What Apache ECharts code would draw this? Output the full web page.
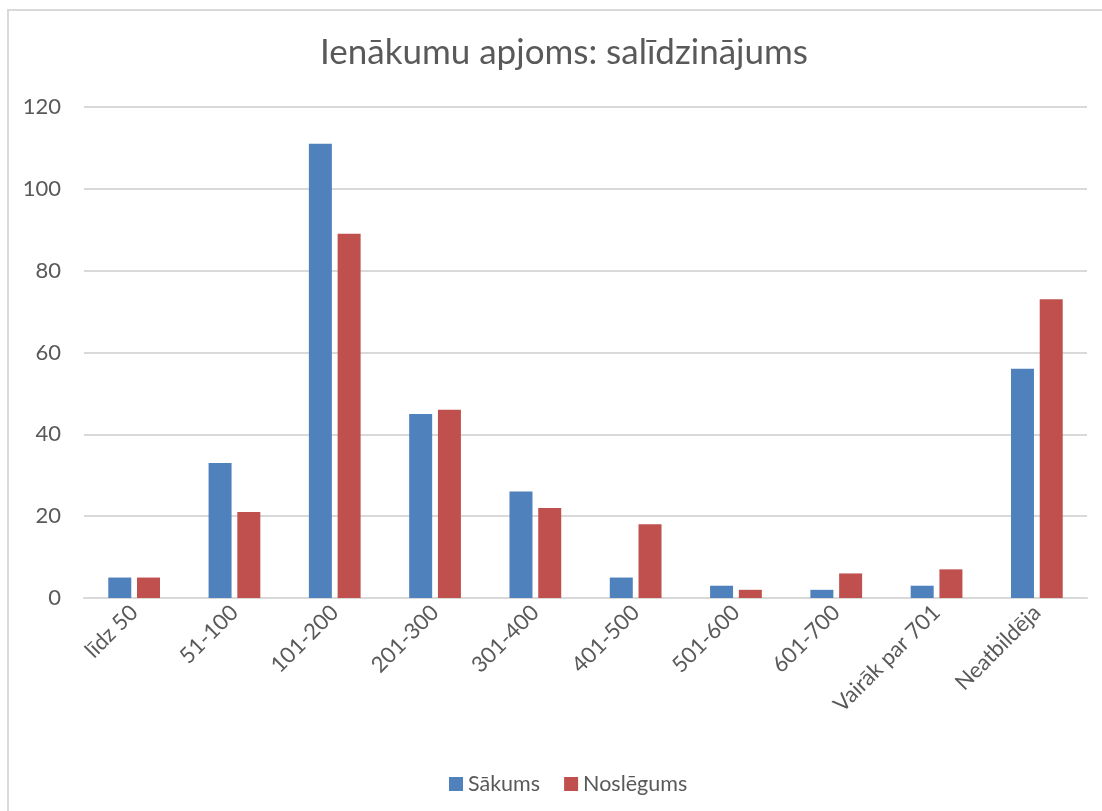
<!DOCTYPE html>
<html>
<head>
<meta charset="utf-8">
<script src="https://cdn.jsdelivr.net/npm/echarts@6/dist/echarts.min.js"></script>
<style>
  html, body { margin: 0; padding: 0; background: #fff; }
  #frame {
    position: absolute; left: 7px; top: 9px; width: 1095px; height: 802px;
    border-left: 2px solid #d9d9d9; border-top: 2px solid #d9d9d9;
    box-sizing: border-box;
  }
  #chart { position: absolute; left: 0; top: 0; width: 1102px; height: 811px; }
</style>
</head>
<body>
<div id="frame"></div>
<div id="chart"></div>
<script>
const categories = ['līdz 50', '51-100', '101-200', '201-300', '301-400', '401-500', '501-600', '601-700', 'Vairāk par 701', 'Neatbildēja'];
const sakums = [5, 33, 111, 45, 26, 5, 3, 2, 3, 56];
const noslegums = [5, 21, 89, 46, 22, 18, 2, 6, 7, 73];
const yTicks = [0, 20, 40, 60, 80, 100, 120];

const textColor = '#595959';
const font = 'Lato, "Noto Sans", sans-serif';

const chart = echarts.init(document.getElementById('chart'));

chart.setOption({
  animation: false,
  title: {
    text: 'Ienākumu apjoms: salīdzinājums',
    left: 315,
    top: 30,
    textStyle: { color: textColor, fontSize: 35, fontWeight: 'normal', fontFamily: font }
  },
  legend: {
    top: 768,
    left: 444,
    itemWidth: 14,
    itemHeight: 14,
    itemGap: 24,
    icon: 'rect',
    textStyle: { color: textColor, fontSize: 21.5, fontFamily: font },
    data: ['Sākums', 'Noslēgums']
  },
  grid: { left: 84, right: 15, top: 107, bottom: 213, containLabel: false },
  xAxis: {
    type: 'category',
    data: categories,
    axisTick: { show: false },
    axisLine: { lineStyle: { color: '#d9d9d9', width: 2 } },
    axisLabel: {
      rotate: 45,
      interval: 0,
      margin: 11,
      color: textColor,
      fontSize: 22,
      fontFamily: font
    }
  },
  yAxis: {
    type: 'value',
    min: yTicks[0],
    max: yTicks[yTicks.length - 1],
    interval: 20,
    axisLine: { show: false },
    axisTick: { show: false },
    splitLine: { lineStyle: { color: '#d9d9d9', width: 2 } },
    axisLabel: { color: textColor, fontSize: 22, fontFamily: font, margin: 23 }
  },
  series: [
    {
      name: 'Sākums',
      type: 'bar',
      data: sakums,
      barWidth: 23,
      barGap: '25%',
      itemStyle: { color: '#4f81bd' }
    },
    {
      name: 'Noslēgums',
      type: 'bar',
      data: noslegums,
      barWidth: 23,
      barGap: '25%',
      itemStyle: { color: '#c0504d' }
    }
  ]
});
</script>
</body>
</html>
